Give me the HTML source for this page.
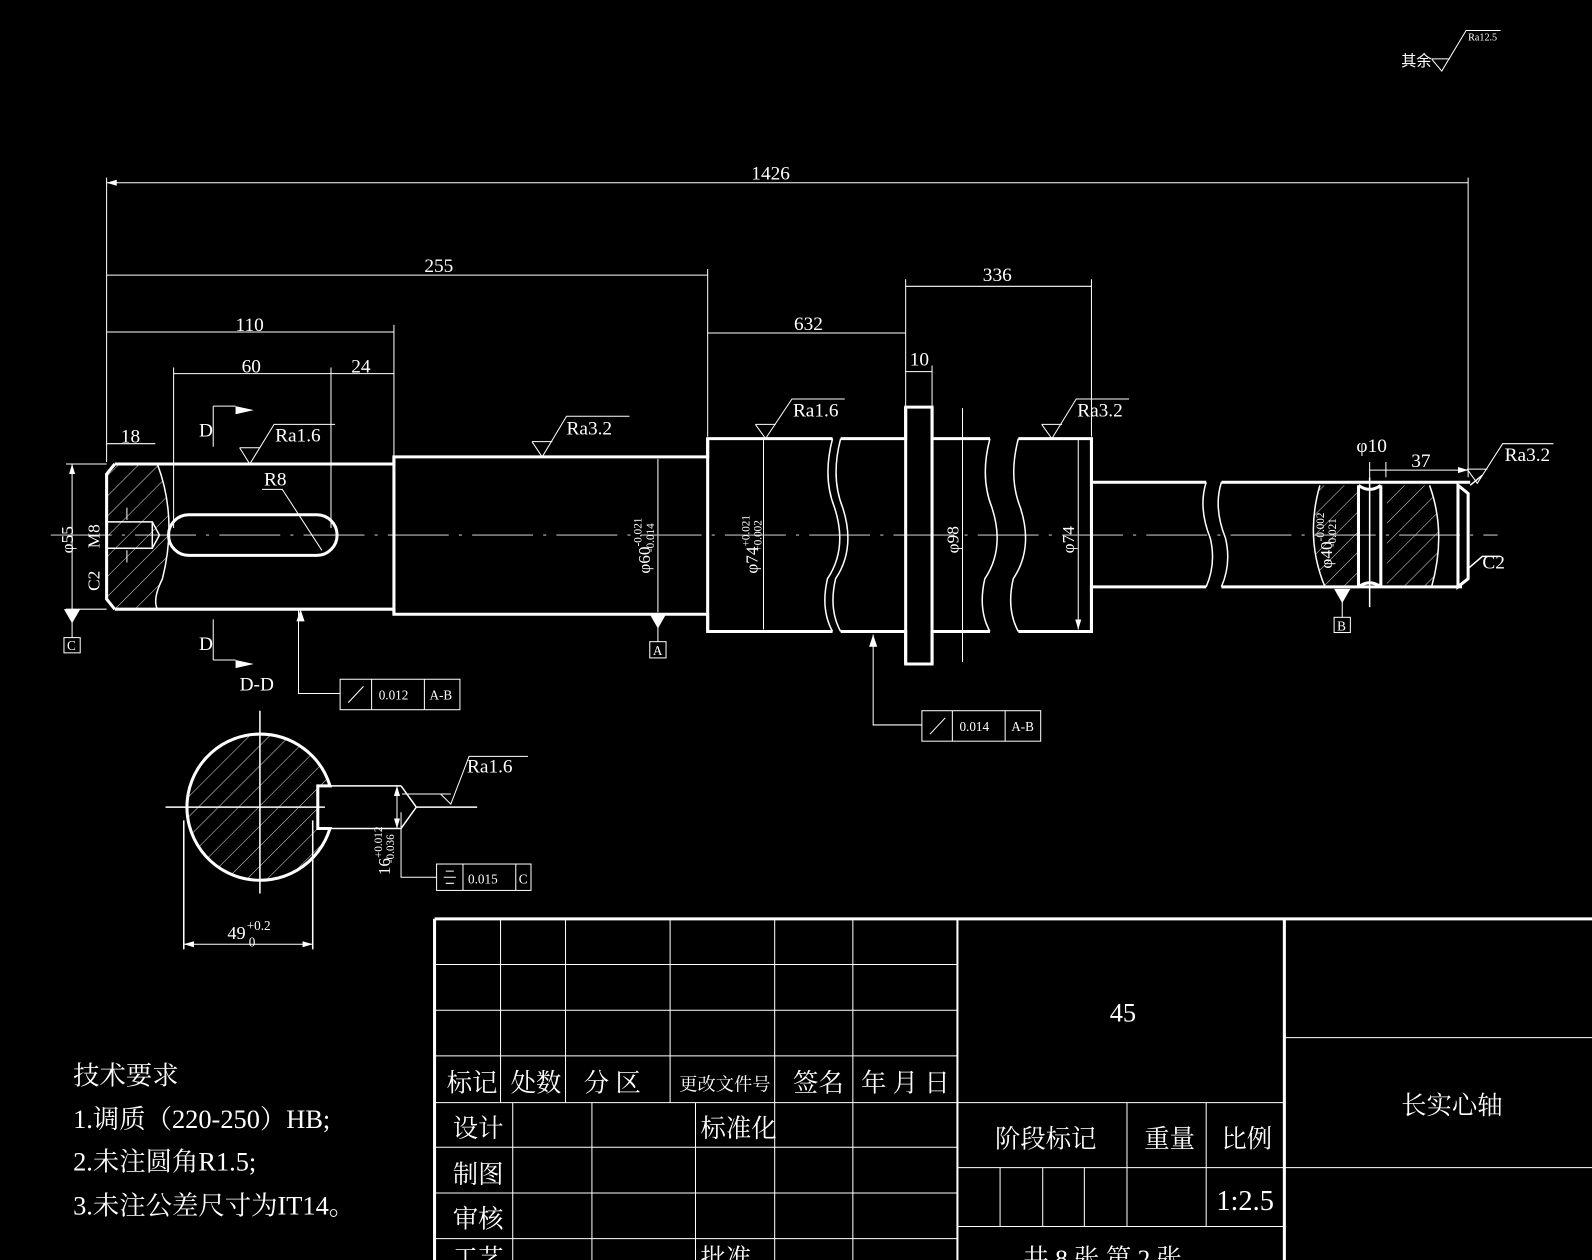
<!DOCTYPE html>
<html><head><meta charset="utf-8"><style>
html,body{margin:0;padding:0;background:#000;overflow:hidden}
svg{display:block}
text{font-family:"Liberation Serif","Noto Serif CJK SC",serif;fill:#fff}
.z{font-family:"Liberation Sans","Noto Sans CJK SC",sans-serif}
</style></head><body>
<svg width="1592" height="1260" viewBox="0 0 1568 1241" preserveAspectRatio="none" xmlns="http://www.w3.org/2000/svg">
<defs>
<pattern id="h" width="14" height="14" patternUnits="userSpaceOnUse" patternTransform="rotate(45)">
<line x1="0" y1="0" x2="0" y2="14" stroke="#ddd" stroke-width="1"/></pattern>
<marker id="a" viewBox="0 0 10 6" refX="10" refY="3" markerWidth="10" markerHeight="6" orient="auto-start-reverse"><path d="M0,0L10,3L0,6z" fill="#fff"/></marker>
</defs>
<rect width="1568" height="1241" fill="#000"/>

<text x="1380" y="65" font-size="15" class="z">其余</text>
<path d="M1410,58 L1420,70 L1444,30 L1478,30" stroke="#fff" fill="none"/>
<path d="M1410,58 L1428,58" stroke="#fff"/>
<text x="1446" y="40" font-size="10">Ra12.5</text>

<g stroke="#fff" stroke-width="1" fill="none">
<path d="M105,175V455M1446,175V470M105,265V455M697,265V430M388,320V455M892,275V400M1075,275V430M171,362V520M326,362V520M918,360V400M1349,455V470M1365,455V470"/>
<path d="M65,457H105M65,600H105"/>
<path d="M105,180H1446M105,271H697M105,327H388M171,368H326M326,368H388M697,328H892M892,282H1075M105,437H153M892,366H918M1349,463H1365M1365,463H1446" marker-start="url(#a)" marker-end="url(#a)"/>
<path d="M71,457V600M648,452V603M752,433V620M948,402V652M1062,433V620" marker-start="url(#a)" marker-end="url(#a)"/>
<path d="M125,500V512M125,542V554" />
<path d="M50,527H1475" stroke="#bbb" stroke-dasharray="60,10,3,10"/>
<path d="M210,400V440M210,610V650M210,400H232M210,650H232"/>
<path d="M258,482H278L317,542"/>
<path d="M71,600V628M648,605V632M1322,580V608"/>
<path d="M294,600V683H335M860,625V714H908M395,800V864H430"/>
<path d="M236,441L246,457L270,418H330M524,435L534,450L558,410H620M744,418L754,432L780,393H832M1026,418L1036,432L1060,393H1112M1445,462L1455,476L1480,437H1530M396,782L434,782L444,792L462,745H520"/>
<path d="M236,441H256M524,435H544M744,418H764M1026,418H1046M1445,462H1465M424,782H444"/>
</g>
<path d="M296,600L292,612H300z" fill="#fff"/>
<path d="M860,625L856,637H864z" fill="#fff"/>
<path d="M63,600H79L71,614z M640,605H656L648,619z M1314,580H1330L1322,594z" fill="#fff"/>
<path d="M232,400L250,404L232,408z M232,650L250,654L232,658z" fill="#fff"/>
<g stroke="#fff" fill="none" stroke-width="1">
<rect x="63" y="628" width="16" height="15"/><rect x="640" y="632" width="16" height="16"/><rect x="1314" y="608" width="16" height="15"/>
<rect x="335" y="669" width="118" height="30"/><path d="M366,669V699M418,669V699M343,692L358,676"/>
<rect x="908" y="700" width="117" height="30"/><path d="M938,700V730M990,700V730M916,723L931,707"/>
<rect x="430" y="851" width="93" height="26"/><path d="M456,851V877M508,851V877M439,858H447M437,864H449M439,870H447"/>
</g>

<path d="M113,457H155Q175,510 160,570Q150,590 155,600H113L105,592V465z" fill="url(#h)"/>
<path d="M1300,478H1338V578H1305Q1285,530 1300,478z" fill="url(#h)"/>
<path d="M1366,478H1408Q1425,525 1410,578H1366z" fill="url(#h)"/>
<path d="M256,723A72,72 0 1 0 325,816H313V774H325A72,72 0 0 0 256,723z" fill="url(#h)"/>

<g stroke="#fff" stroke-width="3" fill="none">
<path d="M113,457H388V450H697V432H820M828,432H892V401H918V432H975M1003,432H1075V475H1188M1203,475H1448L1448,475"/>
<path d="M113,600H388V605H697V622H820M828,622H892V654H918V622H975M1003,622H1075V578H1188M1203,578H1440"/>
<path d="M113,457L105,467V590L113,600M388,450V605M697,432V622M1075,432V622M892,401V654M918,401V654"/>
<path d="M1338,478V578M1360,478V578M1338,478Q1349,486 1360,478M1338,578Q1349,570 1360,578M1436,478V578L1446,570V486z"/>
<path d="M186,507H312A20,20 0 0 1 312,547H186A20,20 0 0 1 186,507z"/>
<path d="M256,723A72,72 0 1 0 325,816H313V774H325A72,72 0 0 0 256,723z"/>
</g>
<g stroke="#fff" stroke-width="1.5" fill="none">
<path d="M820,432Q810,470 822,500Q835,540 815,570Q808,600 820,622M828,432Q818,470 830,500Q843,540 823,570Q816,600 828,622"/>
<path d="M975,432Q965,470 977,500Q990,540 970,570Q963,600 975,622M1003,432Q993,470 1005,500Q1018,540 998,570Q991,600 1003,622"/>
<path d="M1188,475Q1180,500 1192,530Q1198,555 1188,578M1203,475Q1195,500 1207,530Q1213,555 1203,578"/>
<path d="M155,457Q175,510 160,570Q150,590 155,600M1300,478Q1285,530 1305,578M1408,478Q1425,525 1410,578"/>
<path d="M105,514H150L157,527L150,540H105M150,514V540"/>
<path d="M1349,470V598"/>
<path d="M163,795H320M256,700V880M313,774H395M313,816H395M395,774L410,795L395,816M410,795H470M181,808V935M308,808V935"/>
<path d="M1446,560L1460,548H1478M1448,478L1460,468"/>
</g>
<path d="M181,930H308" stroke="#fff" marker-start="url(#a)" marker-end="url(#a)"/>
<path d="M391,774V816" stroke="#fff" marker-start="url(#a)" marker-end="url(#a)"/>

<g font-size="19">
<text x="740" y="177">1426</text><text x="418" y="268">255</text><text x="232" y="326">110</text>
<text x="238" y="367">60</text><text x="346" y="367">24</text><text x="782" y="325">632</text>
<text x="968" y="277">336</text><text x="896" y="360">10</text><text x="119" y="436">18</text>
<text x="1336" y="445">φ10</text><text x="1390" y="460">37</text>
<text x="196" y="430">D</text><text x="196" y="640">D</text><text x="236" y="680">D-D</text>
<text x="260" y="478">R8</text>
<text x="271" y="435">Ra1.6</text><text x="558" y="428">Ra3.2</text><text x="781" y="410">Ra1.6</text>
<text x="1061" y="410">Ra3.2</text><text x="1482" y="454">Ra3.2</text><text x="460" y="761">Ra1.6</text>
<text x="1460" y="560">C2</text>
</g>
<g font-size="13"><text x="66" y="640">C</text><text x="643" y="645">A</text><text x="1317" y="621">B</text>
<text x="373" y="689">0.012</text><text x="423" y="689">A-B</text>
<text x="945" y="720">0.014</text><text x="996" y="720">A-B</text>
<text x="461" y="870">0.015</text><text x="511" y="870">C</text>
<text x="224" y="925" font-size="18">49</text><text x="243" y="916">+0.2</text><text x="245" y="932">0</text></g>
<g font-size="17">
<text transform="translate(72,545) rotate(-90)">φ55</text>
<text transform="translate(98,540) rotate(-90)">M8</text>
<text transform="translate(98,582) rotate(-90)">C2</text>
<text transform="translate(640,565) rotate(-90)">φ60<tspan font-size="11" dy="-8">-0.021</tspan><tspan font-size="11" dx="-34" dy="12">-0.014</tspan></text>
<text transform="translate(746,565) rotate(-90)">φ74<tspan font-size="11" dy="-8">+0.021</tspan><tspan font-size="11" dx="-36" dy="12">+0.002</tspan></text>
<text transform="translate(944,545) rotate(-90)">φ98</text>
<text transform="translate(1058,545) rotate(-90)">φ74</text>
<text transform="translate(1312,560) rotate(-90)">φ40<tspan font-size="11" dy="-8">-0.002</tspan><tspan font-size="11" dx="-34" dy="12">-0.021</tspan></text>
<text transform="translate(384,862) rotate(-90)">16<tspan font-size="11" dy="-8">+0.012</tspan><tspan font-size="11" dx="-36" dy="12">-0.036</tspan></text>
</g>

<g class="z" font-size="26">
<text x="72" y="1068">技术要求</text>
<text x="72" y="1111">1.调质（220-250）HB;</text>
<text x="72" y="1153">2.未注圆角R1.5;</text>
<text x="72" y="1196">3.未注公差尺寸为IT14。</text>
</g>

<g stroke="#fff" fill="none">
<path d="M428,905H1568M428,905V1241M1265,905V1241" stroke-width="3"/>
<path d="M943,905V1241" stroke-width="2"/>
<path d="M428,950H943M428,995H943M428,1040H943M428,1086H1265M428,1130H943M428,1175H943M428,1220H943M943,1150H1265M943,1208H1265M1265,1022H1568M1265,1150H1568"/>
<path d="M493,905V1086M557,905V1086M660,905V1086M763,905V1086M840,905V1086"/>
<path d="M505,1086V1241M583,1086V1241M685,1086V1241M763,1086V1241M840,1086V1241"/>
<path d="M1110,1086V1208M1188,1086V1208M985,1150V1208M1027,1150V1208M1068,1150V1208"/>
</g>
<g class="z" font-size="25">
<text x="440" y="1075">标记</text><text x="503" y="1075">处数</text><text x="575" y="1075">分  区</text>
<text x="669" y="1074" font-size="18">更改文件号</text><text x="781" y="1075">签名</text><text x="848" y="1075">年 月 日</text>
<text x="446" y="1120">设计</text><text x="690" y="1120">标准化</text>
<text x="446" y="1165">制图</text><text x="446" y="1209">审核</text><text x="446" y="1248">工艺</text><text x="690" y="1248">批准</text>
<text x="980" y="1130">阶段标记</text><text x="1127" y="1130">重量</text><text x="1203" y="1130">比例</text>
<text x="1008" y="1248">共 8 张   第 2 张</text>
<text x="1380" y="1097">长实心轴</text>
</g>
<text x="1093" y="1006" font-size="26">45</text>
<text x="1198" y="1192" font-size="28">1:2.5</text>
</svg>
</body></html>
